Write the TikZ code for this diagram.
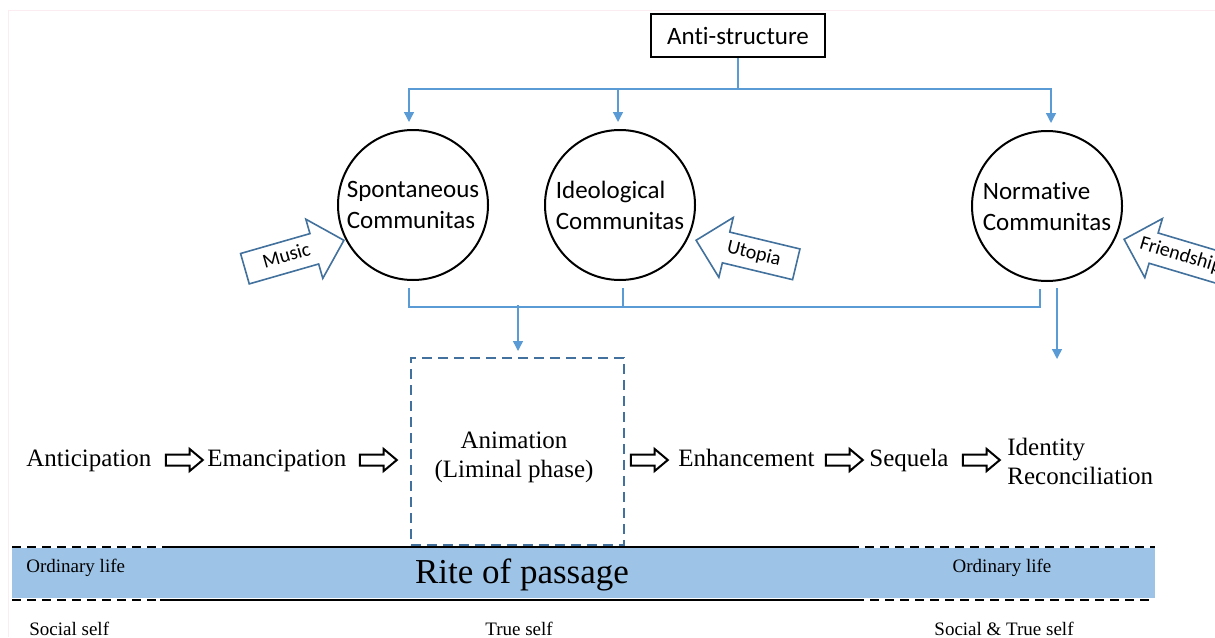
\documentclass[tikz,border=0pt]{standalone}
\usepackage{fontspec}
\setmainfont{Liberation Serif}
\newfontfamily\calibri[Ligatures=NoCommon]{Carlito}
\usepackage{xcolor}
\usepackage{tikz}
\usetikzlibrary{
	arrows.meta,
	shapes,
}
\definecolor{linkblue}{RGB}{91,155,213}
\definecolor{pushblue}{RGB}{65,113,156}
\definecolor{bandblue}{RGB}{157,195,230}
\definecolor{framepink}{RGB}{251,236,242}

\tikzset{
	commu/.style={circle, draw, line width=1pt, minimum size=75pt, inner sep=0pt,
		align=left, font=\calibri\fontsize{12.5}{15.5}\selectfont},
	link/.style={linkblue, line width=0.7pt},
	linkarrow/.style={link, -{Triangle[width=5pt,length=5pt]}},
	push/.style={single arrow, draw=pushblue, line width=0.8pt, fill=white,
		minimum height=51.5pt, minimum width=30pt, single arrow head extend=7.5pt,
		inner xsep=2pt, inner ysep=3pt, text height=7pt, text depth=2pt,
		font=\calibri\fontsize{10}{12}\selectfont},
	flow/.style={single arrow, draw, line width=1pt, minimum height=18.5pt,
		minimum width=10pt, single arrow head extend=2.75pt, single arrow tip angle=80,
		inner xsep=0pt, inner ysep=2.25pt, text height=0pt, text depth=0pt},
	stage/.style={inner sep=0pt, font=\fontsize{12.5}{14.5}\selectfont},
	small/.style={inner sep=0pt, font=\fontsize{9.5}{11}\selectfont},
	border/.style={line width=1.2pt, dash pattern=on 4.5pt off 3pt},
}

\begin{document}
\begin{tikzpicture}[x=0.5pt,y=0.5pt]
	\useasboundingbox (0,0) rectangle (1215,-637);
	\clip (0,0) rectangle (1215,-637);
	\draw[framepink] (8,-637) -- (8,-10) -- (1215,-10);

	% top part
	\node[draw, line width=1pt, minimum width=87pt, minimum height=21.5pt, inner sep=0pt,
		font=\calibri\fontsize{12.5}{15}\selectfont] (anti) at (738,-35.5) {Anti-structure};
	\node[commu] (spont) at (413,-205) {Spontaneous\\Communitas};
	\node[commu] (ideo) at (620,-205) {Ideological\\Communitas};
	\node[commu] (norm) at (1047,-206) {Normative\\Communitas};

	\coordinate (fork) at (738,-89);
	\draw[link] (anti) -- (fork);
	\draw[linkarrow, shorten >=3.5pt] (fork) -| ([xshift=-2]spont.north);
	\draw[linkarrow, shorten >=3.5pt] (fork) -| ([xshift=-1]ideo.north);
	\draw[linkarrow, shorten >=3.5pt] (fork) -| ([xshift=2]norm.north);

	\node[push, rotate=16, anchor=tip] (music) at (345,-240) {Music};
	\node[push, shape border rotate=180, rotate=-13.5, anchor=tip] (utopia) at (695,-240) {Utopia};
	\node[push, shape border rotate=180, rotate=-16.6, anchor=tip, inner xsep=-7pt] (friend) at (1123,-239) {Friendship};

	% middle row
	\node[draw=pushblue, line width=1pt, dash pattern=on 5pt off 3pt, minimum width=106.5pt,
		minimum height=93.5pt] (phase) at (517.5,-451.5) {};
	\node[stage, align=center] (anim) at (514,-457) {Animation\\(Liminal phase)};

	\draw[link] ([shift={(-4,-7)}]spont.south) |- ([shift={(-7,-25)}]norm.south) -- ++(0,18);
	\draw[link] ([shift={(3,-7)}]ideo.south) -- ++(0,-18);
	\coordinate (join) at (518,-305);
	\draw[linkarrow, shorten >=3pt] (join) -- (join |- phase.north);
	\draw[linkarrow] ([shift={(10,-6)}]norm.south) -- ++(0,-71);

	\node[stage, anchor=base west] (antic) at (26,-466) {Anticipation};
	\node[flow] (arr1) at (181,-460) {};
	\node[stage, anchor=base west] (eman) at (207,-466) {Emancipation};
	\node[flow] (arr2) at (375,-460) {};
	\node[flow] (arr3) at (646,-460) {};
	\node[stage, anchor=base west] (enh) at (678,-466) {Enhancement};
	\node[flow] (arr4) at (841,-460) {};
	\node[stage, anchor=base west] (seq) at (869,-466) {Sequela};
	\node[flow] (arr5) at (978,-460) {};
	\node[stage, anchor=west, align=left] (ident) at (1007,-461) {Identity\\Reconciliation};

	% band
	\fill[bandblue] (12,-548) rectangle (1155,-598);
	\draw[border] (12,-547) -- (163,-547);
	\draw[line width=1.2pt] (163,-547) -- (850,-547);
	\draw[border] (850,-547) -- (1155,-547);
	\draw[border] (12,-600) -- (160,-600);
	\draw[line width=1.2pt] (160,-600) -- (855,-600);
	\draw[border] (855,-600) -- (1155,-600);

	\node[small, anchor=west] (life1) at (26,-568) {Ordinary life};
	\node[inner sep=0pt, font=\fontsize{17.5}{20}\selectfont] (rite) at (522,-575) {Rite of passage};
	\node[small] (life2) at (1002,-568) {Ordinary life};
	\node[small, anchor=west] (self1) at (29,-629) {Social self};
	\node[small] (self2) at (519,-629) {True self};
	\node[small] (self3) at (1004,-629) {Social \& True self};
\end{tikzpicture}
\end{document}
